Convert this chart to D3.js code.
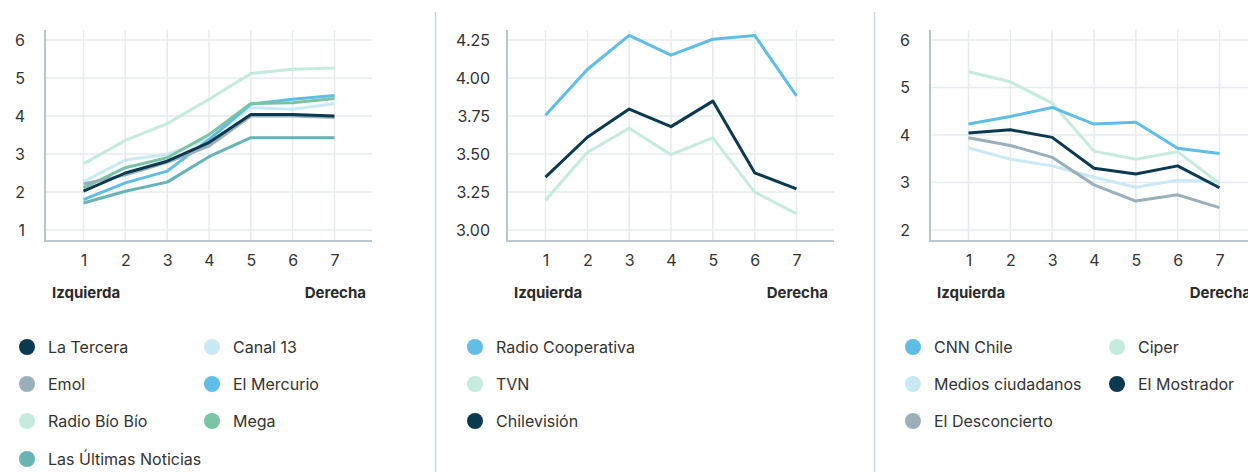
<!DOCTYPE html>
<html>
<head>
<meta charset="utf-8">
<script src="https://cdn.jsdelivr.net/npm/d3@7"></script>
<style>
  html, body { margin: 0; padding: 0; background: #ffffff; }
  svg { display: block; font-family: Inter, "Noto Sans", sans-serif; }
</style>
</head>
<body>
<svg id="chart" width="1248" height="472"></svg>
<script>
// ---------- DATA ----------
const xCategories = [1, 2, 3, 4, 5, 6, 7];
const axisLeftLabel = "Izquierda";
const axisRightLabel = "Derecha";

// Panel 1
const p1Names  = ["La Tercera", "Canal 13", "Emol", "El Mercurio", "Radio Bío Bío", "Mega", "Las Últimas Noticias"];
const laTercera        = [2.02, 2.50, 2.81, 3.30, 4.04, 4.04, 4.00];
const canal13          = [2.27, 2.84, 2.99, 3.40, 4.22, 4.18, 4.33];
const emol             = [2.21, 2.45, 2.78, 3.21, 4.00, 4.00, 3.96];
const elMercurio       = [1.80, 2.24, 2.55, 3.38, 4.31, 4.44, 4.54];
const radioBioBio      = [2.74, 3.36, 3.80, 4.44, 5.12, 5.23, 5.26];
const mega             = [2.11, 2.64, 2.90, 3.51, 4.33, 4.35, 4.46];
const lasUltimas       = [1.71, 2.02, 2.26, 2.93, 3.43, 3.43, 3.43];
const p1Ticks = [1, 2, 3, 4, 5, 6];

// Panel 2
const p2Names = ["Radio Cooperativa", "TVN", "Chilevisión"];
const radioCooperativa = [3.755, 4.056, 4.280, 4.150, 4.255, 4.280, 3.883];
const tvn              = [3.195, 3.511, 3.669, 3.496, 3.606, 3.249, 3.108];
const chilevision      = [3.348, 3.610, 3.796, 3.680, 3.848, 3.376, 3.271];
const p2Ticks = [3.00, 3.25, 3.50, 3.75, 4.00, 4.25];

// Panel 3
const p3Names = ["CNN Chile", "Ciper", "Medios ciudadanos", "El Mostrador", "El Desconcierto"];
const cnnChile         = [4.23, 4.39, 4.58, 4.23, 4.27, 3.72, 3.61];
const ciper            = [5.33, 5.12, 4.67, 3.66, 3.49, 3.65, 2.98];
const mediosCiudadanos = [3.73, 3.49, 3.35, 3.11, 2.90, 3.05, 3.02];
const elMostrador      = [4.04, 4.11, 3.95, 3.30, 3.18, 3.35, 2.89];
const elDesconcierto   = [3.94, 3.78, 3.53, 2.95, 2.61, 2.74, 2.47];
const p3Ticks = [2, 3, 4, 5, 6];

// ---------- STYLE ----------
const C = {
  navy: "#0b3a50", gray: "#9aafb9", mint: "#c5ebde", teal: "#68b3b5",
  pale: "#c9e9f4", blue: "#5fbde6", green: "#7ac3a7"
};

const panels = [
  {
    axisX: 45, ticks: p1Ticks, fmt: d3.format("d"), labelGap: 20,
    series: [
      { name: "Radio Bío Bío", values: radioBioBio, color: C.mint },
      { name: "Canal 13", values: canal13, color: C.pale },
      { name: "Las Últimas Noticias", values: lasUltimas, color: C.teal },
      { name: "El Mercurio", values: elMercurio, color: C.blue },
      { name: "Mega", values: mega, color: C.green },
      { name: "Emol", values: emol, color: C.gray },
      { name: "La Tercera", values: laTercera, color: C.navy }
    ],
    legendOrder: p1Names,
    legend: { cols: [{ dot: 27, text: 48 }, { dot: 212, text: 233 }] }
  },
  {
    axisX: 507, ticks: p2Ticks, fmt: d3.format(".2f"), labelGap: 17,
    series: [
      { name: "TVN", values: tvn, color: C.mint },
      { name: "Radio Cooperativa", values: radioCooperativa, color: C.blue },
      { name: "Chilevisión", values: chilevision, color: C.navy }
    ],
    legendOrder: p2Names,
    legend: { cols: [{ dot: 475, text: 496 }] }
  },
  {
    axisX: 930, ticks: p3Ticks, fmt: d3.format("d"), labelGap: 20,
    series: [
      { name: "Medios ciudadanos", values: mediosCiudadanos, color: C.pale },
      { name: "El Desconcierto", values: elDesconcierto, color: C.gray },
      { name: "Ciper", values: ciper, color: C.mint },
      { name: "CNN Chile", values: cnnChile, color: C.blue },
      { name: "El Mostrador", values: elMostrador, color: C.navy }
    ],
    legendOrder: p3Names,
    legend: { cols: [{ dot: 913, text: 934 }, { dot: 1117, text: 1138 }] }
  }
];

const svg = d3.select("#chart");

// separators
[435.5, 874.5].forEach(x => {
  svg.append("line").attr("x1", x).attr("x2", x).attr("y1", 12).attr("y2", 472)
    .attr("stroke", "#c9d6de").attr("stroke-width", 1.5);
});

const plotTop = 30, plotBottom = 241, plotWidth = 327;
const legendRows = [347, 384, 421, 459];

panels.forEach(p => {
  const g = svg.append("g");
  const x = d3.scaleLinear().domain([1, 7]).range([p.axisX + 38.5, p.axisX + 289.5]);
  const y = d3.scaleLinear().domain([p.ticks[0], p.ticks[p.ticks.length - 1]]).range([230, 40]);
  const right = p.axisX + plotWidth;

  // horizontal grid
  g.append("g").selectAll("line").data(p.ticks).join("line")
    .attr("x1", p.axisX).attr("x2", right)
    .attr("y1", d => y(d)).attr("y2", d => y(d))
    .attr("stroke", "#e6ebee").attr("stroke-width", 1.5);
  // vertical grid
  g.append("g").selectAll("line").data(xCategories).join("line")
    .attr("x1", d => x(d)).attr("x2", d => x(d))
    .attr("y1", plotTop).attr("y2", plotBottom)
    .attr("stroke", "#e6ebee").attr("stroke-width", 1.5);

  // y axis via d3.axisLeft (labels only)
  const yAxis = d3.axisLeft(y).tickValues(p.ticks).tickFormat(p.fmt).tickSize(0).tickPadding(p.labelGap);
  const ya = g.append("g").attr("transform", `translate(${p.axisX},0)`).call(yAxis);
  ya.select(".domain").remove();
  ya.selectAll("text").attr("fill", "#333").attr("font-size", 16).attr("font-family", "Inter, sans-serif");

  // x axis labels
  const xAxis = d3.axisBottom(x).tickValues(xCategories).tickFormat(d3.format("d")).tickSize(0).tickPadding(14);
  const xa = g.append("g").attr("transform", `translate(0,${plotBottom})`).call(xAxis);
  xa.select(".domain").remove();
  xa.selectAll("text").attr("fill", "#333").attr("font-size", 16).attr("font-family", "Inter, sans-serif");

  // axis lines
  g.append("line").attr("x1", p.axisX).attr("x2", p.axisX).attr("y1", plotTop).attr("y2", plotBottom + 1)
    .attr("stroke", "#b9c6ce").attr("stroke-width", 2);
  g.append("line").attr("x1", p.axisX - 1).attr("x2", right).attr("y1", plotBottom).attr("y2", plotBottom)
    .attr("stroke", "#b9c6ce").attr("stroke-width", 2);

  // end labels
  g.append("text").attr("x", p.axisX + 7).attr("y", 298).text(axisLeftLabel)
    .attr("font-size", 15).attr("font-weight", 700).attr("fill", "#2b2b2b");
  g.append("text").attr("x", p.axisX + 321).attr("y", 298).attr("text-anchor", "end").text(axisRightLabel)
    .attr("font-size", 15).attr("font-weight", 700).attr("fill", "#2b2b2b");

  // lines
  const line = d3.line().x((d, i) => x(xCategories[i])).y(d => y(d));
  g.append("g").selectAll("path").data(p.series).join("path")
    .attr("d", s => line(s.values))
    .attr("fill", "none")
    .attr("stroke", s => s.color)
    .attr("stroke-width", 3)
    .attr("stroke-linejoin", "round");

  // legend
  const colorOf = {};
  p.series.forEach(s => colorOf[s.name] = s.color);
  const nCols = p.legend.cols.length;
  const lg = g.append("g").selectAll("g").data(p.legendOrder).join("g")
    .attr("transform", (d, i) => `translate(0,${legendRows[Math.floor(i / nCols)]})`);
  lg.append("circle")
    .attr("cx", (d, i) => p.legend.cols[i % nCols].dot)
    .attr("cy", 0).attr("r", 8).attr("fill", d => colorOf[d]);
  lg.append("text")
    .attr("x", (d, i) => p.legend.cols[i % nCols].text)
    .attr("y", 0).attr("dy", "0.35em")
    .attr("font-size", 16).attr("fill", "#333").text(d => d);
});
</script>
</body>
</html>
